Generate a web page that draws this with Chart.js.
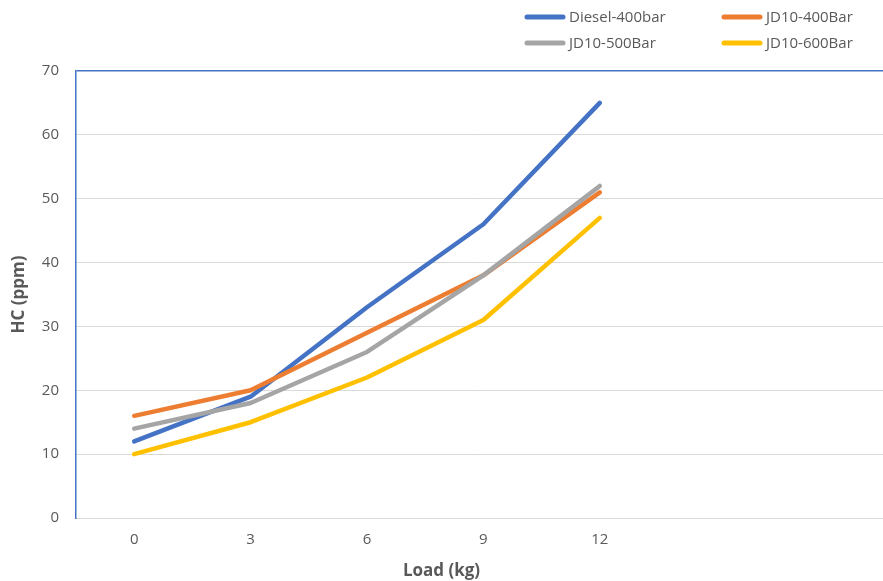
<!DOCTYPE html>
<html>
<head>
<meta charset="utf-8">
<script src="https://cdn.jsdelivr.net/npm/chart.js@4/dist/chart.umd.min.js"></script>
<style>
html,body{margin:0;padding:0;background:#fff;}
#wrap{position:relative;width:883px;height:581px;}
</style>
</head>
<body>
<div id="wrap"><canvas id="c" width="883" height="581"></canvas></div>
<script>
// ---- data ----
const loads = [0, 3, 6, 9, 12];
const seriesNames = ['Diesel-400bar', 'JD10-400Bar', 'JD10-500Bar', 'JD10-600Bar'];
const diesel400 = [12, 19, 33, 46, 65];
const jd10_400 = [16, 20, 29, 38, 51];
const jd10_500 = [14, 18, 26, 38, 52];
const jd10_600 = [10, 15, 22, 31, 47];
const yTicks = [0, 10, 20, 30, 40, 50, 60, 70];
const xTicks = [0, 3, 6, 9, 12];

const colors = ['#4472C4', '#ED7D31', '#A5A5A5', '#FFC000'];
const values = [diesel400, jd10_400, jd10_500, jd10_600];
const txt = '#595959';
const FONT = "'Open Sans', 'Liberation Sans', sans-serif";

const datasets = values.map((vals, i) => ({
  label: seriesNames[i],
  data: vals.map((v, j) => ({x: loads[j], y: v})),
  borderColor: colors[i],
  backgroundColor: colors[i],
  borderWidth: 4.5,
  pointRadius: 0,
  tension: 0,
  fill: false,
  borderCapStyle: 'round',
  borderJoinStyle: 'round',
  order: values.length - i
}));

const legendPlugin = {
  id: 'gridLegend',
  afterDraw(chart) {
    const ctx = chart.ctx;
    ctx.save();
    ctx.font = "15px " + FONT;
    ctx.textBaseline = 'middle';
    ctx.textAlign = 'left';
    chart.data.datasets.forEach((ds, i) => {
      const col = i % 2, row = Math.floor(i / 2);
      const x = 527 + col * 197;
      const y = 17 + row * 26;
      ctx.strokeStyle = ds.borderColor;
      ctx.lineWidth = 5;
      ctx.lineCap = 'round';
      ctx.beginPath();
      ctx.moveTo(x, y);
      ctx.lineTo(x + 36, y);
      ctx.stroke();
      ctx.fillStyle = txt;
      ctx.fillText(ds.label, x + 42, y + 1);
    });
    ctx.restore();
  }
};

new Chart(document.getElementById('c'), {
  type: 'line',
  data: {datasets},
  plugins: [legendPlugin],
  options: {
    responsive: false,
    animation: false,
    layout: {padding: {top: 71, right: 0, bottom: 0, left: 0}},
    plugins: {
      legend: {display: false},
      tooltip: {enabled: false},
      title: {
        display: true,
        position: 'bottom',
        text: 'Load (kg)',
        color: txt,
        font: {family: FONT, size: 17, weight: 'bold'},
        padding: {top: 0, bottom: 0}
      }
    },
    scales: {
      x: {
        type: 'linear',
        min: -1.5,
        max: 19.3,
        afterBuildTicks: (s) => { s.ticks = xTicks.map(v => ({value: v})); },
        afterFit: (s) => { s.height = 42.6; },
        grid: {display: false, drawTicks: false},
        border: {color: '#D9D9D9', width: 1},
        ticks: {color: txt, font: {family: FONT, size: 15}, padding: 13, autoSkip: false, maxRotation: 0}
      },
      y: {
        min: 0,
        max: 70,
        afterBuildTicks: (s) => { s.ticks = yTicks.map(v => ({value: v})); },
        afterFit: (s) => { s.width = 76; },
        grid: {
          drawTicks: false,
          color: (c) => (c.tick && c.tick.value === 70) ? '#4472C4' : '#D9D9D9',
          lineWidth: (c) => (c.tick && c.tick.value === 70) ? 1.5 : 1
        },
        border: {color: '#4472C4', width: 1.5},
        ticks: {color: txt, font: {family: FONT, size: 15}, padding: 17},
        title: {
          display: true,
          text: 'HC (ppm)',
          color: txt,
          font: {family: FONT, size: 17, weight: 'bold'},
          padding: {top: 9, bottom: 0}
        }
      }
    }
  }
});
</script>
</body>
</html>
